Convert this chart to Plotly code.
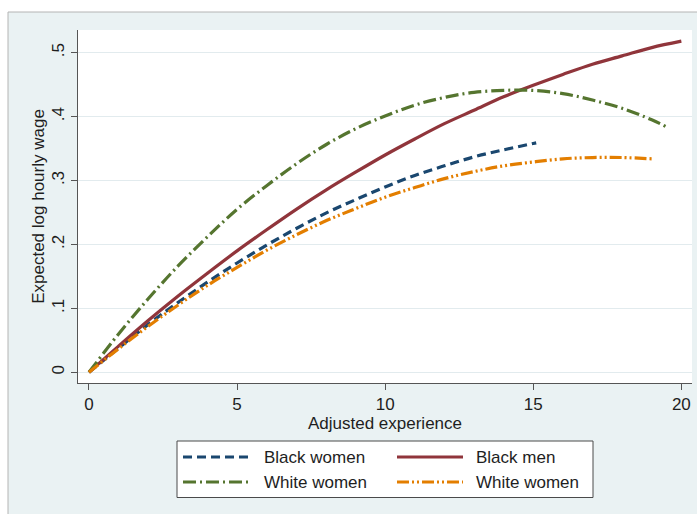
import plotly.graph_objects as go

# Expected log hourly wage by adjusted experience (years)
exp_black_women = [0, 1, 2, 3, 4, 5, 6, 7, 8, 9, 10, 11, 12, 13, 14, 15, 15.1]
wage_black_women = [0.0, 0.038, 0.075, 0.109, 0.141, 0.171, 0.199, 0.225, 0.249, 0.270,
                    0.290, 0.308, 0.323, 0.337, 0.348, 0.358, 0.359]

exp_black_men = [0, 1, 2, 3, 4, 5, 6, 7, 8, 9, 10, 11, 12, 13, 14, 15, 16, 17, 18, 19, 20]
wage_black_men = [0.0, 0.041, 0.081, 0.119, 0.155, 0.190, 0.223, 0.255, 0.285, 0.313,
                  0.340, 0.365, 0.389, 0.410, 0.431, 0.449, 0.466, 0.482, 0.495, 0.508, 0.518]

exp_white_women_a = [0, 1, 2, 3, 4, 5, 6, 7, 8, 9, 10, 11, 12, 13, 14, 15, 16, 17, 18, 19, 19.5]
wage_white_women_a = [0.0, 0.060, 0.115, 0.166, 0.212, 0.255, 0.292, 0.326, 0.356, 0.381,
                      0.401, 0.418, 0.430, 0.438, 0.441, 0.441, 0.436, 0.426, 0.413, 0.395, 0.384]

exp_white_women_b = [0, 1, 2, 3, 4, 5, 6, 7, 8, 9, 10, 11, 12, 13, 14, 15, 16, 17, 18, 19]
wage_white_women_b = [0.0, 0.037, 0.072, 0.105, 0.136, 0.164, 0.191, 0.215, 0.237, 0.256,
                      0.274, 0.289, 0.303, 0.314, 0.323, 0.329, 0.334, 0.336, 0.336, 0.334]

x_ticks = [0, 5, 10, 15, 20]
y_ticks = [0, 0.1, 0.2, 0.3, 0.4, 0.5]
y_tick_labels = ["0", ".1", ".2", ".3", ".4", ".5"]

series = [
    ("Black women", exp_black_women, wage_black_women, "#1A476F", "9px,5px"),
    ("Black men", exp_black_men, wage_black_men, "#90353B", "solid"),
    ("White women", exp_white_women_a, wage_white_women_a, "#55752F", "13px,4px,2px,4px"),
    ("White women", exp_white_women_b, wage_white_women_b, "#E37E00",
     "12px,3px,2px,3px,2px,3px"),
]

FONT = "Liberation Sans, Arial, sans-serif"
TEXT = "#1e1e1e"

W, H = 697, 514
ML, MR, MT, MB = 78, 5, 30, 131
PW, PH = W - ML - MR, H - MT - MB


def px_x(px):
    return (px - ML) / PW


def px_y(py):
    return (H - MB - py) / PH


fig = go.Figure()
for name, xs, ys, color, dash in series:
    fig.add_trace(go.Scatter(
        x=xs, y=ys, mode="lines", name=name, showlegend=False,
        line=dict(color=color, width=3.2, dash=dash, shape="spline"),
    ))

shapes = [
    # outer graph region
    dict(type="rect", xref="paper", yref="paper", layer="below",
         x0=px_x(8), x1=px_x(720), y0=px_y(540), y1=px_y(12),
         fillcolor="#EAF2F3", line=dict(color="#B4B4B4", width=1)),
    # plot region
    dict(type="rect", xref="paper", yref="paper", layer="below",
         x0=0, x1=1, y0=0, y1=1, fillcolor="white", line=dict(width=0)),
    # legend box
    dict(type="rect", xref="paper", yref="paper",
         x0=px_x(177), x1=px_x(593), y0=px_y(497.5), y1=px_y(441),
         fillcolor="white", line=dict(color="#4a4a4a", width=1)),
]

annotations = []
legend_slots = [(183, 250, 262, 457), (397, 463, 474, 457),
                (183, 250, 262, 482), (397, 463, 474, 482)]
for (name, _, _, color, dash), (lx0, lx1, tx, ly) in zip(series, legend_slots):
    shapes.append(dict(type="line", xref="paper", yref="paper",
                       x0=px_x(lx0), x1=px_x(lx1), y0=px_y(ly), y1=px_y(ly),
                       line=dict(color=color, width=3.2, dash=dash)))
    annotations.append(dict(text=name, xref="paper", yref="paper",
                            x=px_x(tx), y=px_y(ly), xanchor="left", yanchor="middle",
                            showarrow=False, font=dict(family=FONT, size=17, color=TEXT)))

fig.update_layout(
    width=W, height=H,
    margin=dict(l=ML, r=MR, t=MT, b=MB),
    paper_bgcolor="white", plot_bgcolor="white",
    font=dict(family=FONT, size=17, color=TEXT),
    shapes=shapes, annotations=annotations,
    xaxis=dict(
        range=[-0.37, 20.36], tickvals=x_ticks, ticks="outside", ticklen=6,
        tickcolor="#555555", showline=True, linecolor="#555555", linewidth=1,
        showgrid=False, zeroline=False, tickfont=dict(size=17),
        title=dict(text="Adjusted experience", font=dict(size=17), standoff=0),
    ),
    yaxis=dict(
        range=[-0.0167, 0.5355], tickvals=y_ticks, ticktext=y_tick_labels,
        tickangle=-90, ticks="outside", ticklen=6,
        tickcolor="#555555", showline=True, linecolor="#555555", linewidth=1,
        showgrid=True, gridcolor="#E2EBEE", gridwidth=1, zeroline=False,
        tickfont=dict(size=17),
        title=dict(text="Expected log hourly wage", font=dict(size=17), standoff=0),
    ),
)

fig.write_html("out.html")
